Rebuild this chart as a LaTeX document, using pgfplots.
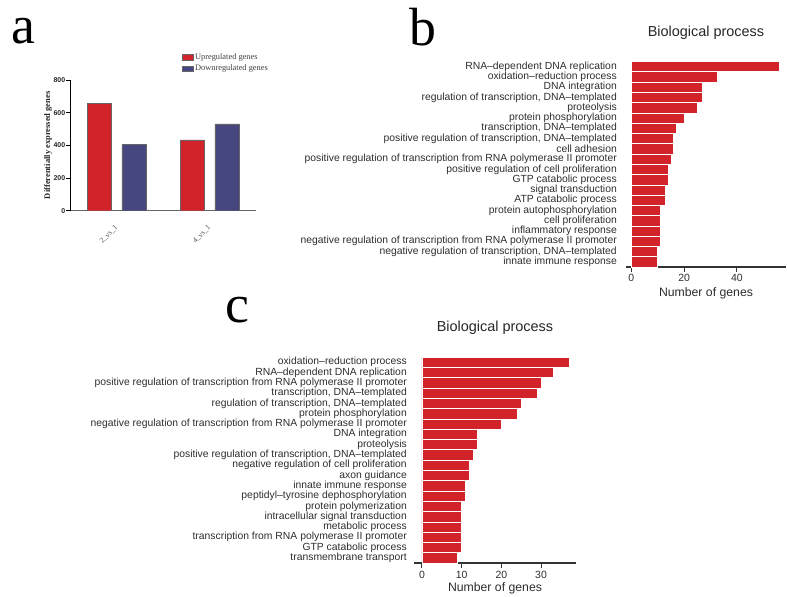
\documentclass[border=0pt]{standalone}
\usepackage{fontspec}
\setmainfont{Liberation Sans}
\newfontfamily\serif{Liberation Serif}
\usepackage{pgfplots}
\pgfplotsset{compat=1.18}
\definecolor{barred}{RGB}{210,35,42}
\definecolor{barblue}{RGB}{70,70,128}
\definecolor{txt}{RGB}{45,45,45}
\pgfplotsset{
  goaxis/.style={
    scale only axis,
    xmin=-2, ymin=0.5, ymax=20.5, y dir=reverse,
    axis x line*=bottom, axis y line*=left, axis line style={-},
    y axis line style={draw=none},
    x axis line style={draw=black!80, line width=1.2bp},
    tick align=outside, major tick length=5bp,
    xtick style={draw=black!80, line width=1bp},
    ytick style={draw=none},
    ytick={1,...,20},
    yticklabel style={font=\fontsize{10.4}{10.4}\selectfont, text=txt, inner sep=0pt},
    xticklabel style={font=\fontsize{10.5}{10.5}\selectfont, text=txt, anchor=base, inner sep=0pt},
    /pgf/number format/assume math mode=true,
    xlabel={Number of genes},
    xlabel style={font=\fontsize{12.3}{12.3}\selectfont, text=txt, at={(axis description cs:0.5,0)}, anchor=base, inner sep=0pt},
    title={Biological process},
    title style={font=\fontsize{14.5}{14.5}\selectfont, text=black!85, at={(axis description cs:0.5,1)}, anchor=base, inner sep=0pt},
  },
  gobar/.style={xbar, bar width=1, fill=barred, draw=white, line width=0.6bp},
  sqlegend/.style={legend image code/.code={\draw[##1, line width=0.4bp] (0bp,-2.8bp) rectangle (11bp,2.8bp);}},
}
\begin{document}
\begin{tikzpicture}
\path[use as bounding box] (0,0) rectangle (787bp,-597bp);
\node[anchor=base west, inner sep=0pt, font=\serif\fontsize{54}{54}\selectfont] at (11bp,-43bp) {a};
\node[anchor=base west, inner sep=0pt, font=\serif\fontsize{54}{54}\selectfont] at (409bp,-45bp) {b};
\node[anchor=base west, inner sep=0pt, font=\serif\fontsize{54}{54}\selectfont] at (225bp,-322bp) {c};

% ---------- panel a ----------
\begin{axis}[
  at={(70bp,-210.7bp)}, anchor=south west, scale only axis,
  width=186bp, height=130.7bp,
  xmin=-0.5, xmax=1.5, ymin=0, ymax=800,
  axis x line*=bottom, axis y line*=left, axis line style={-},
  x axis line style={draw=black!60, line width=0.9bp},
  y axis line style={draw=black, line width=0.9bp},
  xtick={0,1}, xticklabels={2\_vs\_1,4\_vs\_1},
  xtick style={draw=none},
  xticklabel style={rotate=45, anchor=east, font=\serif\fontsize{7.5}{7.5}\selectfont, text=black!70, inner sep=0pt},
  xticklabel shift={12bp},
  ytick={0,200,400,600,800},
  tick align=outside, major tick length=4bp,
  ytick style={draw=black, line width=0.8bp},
  yticklabel style={font=\bfseries\fontsize{7}{7}\selectfont, inner sep=0.6bp, text=black!85},
  /pgf/number format/assume math mode=true,
  ylabel={Differentially expressed genes},
  ylabel style={font=\serif\bfseries\fontsize{8.5}{8.5}\selectfont, at={(axis description cs:-0.118,0.5)}, anchor=center, text=black!85},
  legend style={at={(axis description cs:0.602,1.214)}, anchor=north west, draw=none, fill=none,
    font=\serif\fontsize{8.4}{8.4}\selectfont, text=black!75, inner sep=0pt, row sep=1bp,
    nodes={inner sep=1.5bp}},
  legend cell align=left,
]
\addplot[ybar, bar width=0.259, bar shift=-0.1875, fill=barred, draw=black!60, line width=0.4bp, sqlegend]
  coordinates {(0,655) (1,433)};
\addplot[ybar, bar width=0.259, bar shift=0.1875, fill=barblue, draw=black!60, line width=0.4bp, sqlegend]
  coordinates {(0,404) (1,531)};
\legend{Upregulated genes, Downregulated genes}
\end{axis}

% ---------- panel b ----------
\begin{axis}[goaxis,
  at={(626bp,-267bp)}, anchor=south west,
  width=160bp, height=205.5bp, xmax=58.6,
  xtick={0,20,40},
  yticklabel style={xshift=-4bp},
  xticklabel style={yshift=-9bp},
  xlabel style={yshift=-29bp},
  title style={yshift=19bp},
  yticklabels={
    {RNA--dependent DNA replication},
    {oxidation--reduction process},
    {DNA integration},
    {regulation of transcription, DNA--templated},
    {proteolysis},
    {protein phosphorylation},
    {transcription, DNA--templated},
    {positive regulation of transcription, DNA--templated},
    {cell adhesion},
    {positive regulation of transcription from RNA polymerase II promoter},
    {positive regulation of cell proliferation},
    {GTP catabolic process},
    {signal transduction},
    {ATP catabolic process},
    {protein autophosphorylation},
    {cell proliferation},
    {inflammatory response},
    {negative regulation of transcription from RNA polymerase II promoter},
    {negative regulation of transcription, DNA--templated},
    {innate immune response}},
]
\addplot[gobar] coordinates {
  (56,1) (32.5,2) (27,3) (27,4) (25,5) (20,6) (17,7) (16,8) (16,9) (15,10)
  (14,11) (14,12) (13,13) (13,14) (11,15) (11,16) (11,17) (11,18) (10,19) (10,20)};
\end{axis}

% ---------- panel c ----------
\begin{axis}[goaxis,
  at={(414bp,-563bp)}, anchor=south west,
  width=162bp, height=206bp, xmax=38.8,
  xtick={0,10,20,30},
  yticklabel style={xshift=-2bp},
  xticklabel style={yshift=-10bp},
  xlabel style={yshift=-28bp},
  title style={yshift=19.5bp},
  yticklabels={
    {oxidation--reduction process},
    {RNA--dependent DNA replication},
    {positive regulation of transcription from RNA polymerase II promoter},
    {transcription, DNA--templated},
    {regulation of transcription, DNA--templated},
    {protein phosphorylation},
    {negative regulation of transcription from RNA polymerase II promoter},
    {DNA integration},
    {proteolysis},
    {positive regulation of transcription, DNA--templated},
    {negative regulation of cell proliferation},
    {axon guidance},
    {innate immune response},
    {peptidyl--tyrosine dephosphorylation},
    {protein polymerization},
    {intracellular signal transduction},
    {metabolic process},
    {transcription from RNA polymerase II promoter},
    {GTP catabolic process},
    {transmembrane transport}},
]
\addplot[gobar] coordinates {
  (37,1) (33,2) (30,3) (29,4) (25,5) (24,6) (20,7) (14,8) (14,9) (13,10)
  (12,11) (12,12) (11,13) (11,14) (10,15) (10,16) (10,17) (10,18) (10,19) (9,20)};
\end{axis}
\end{tikzpicture}
\end{document}
